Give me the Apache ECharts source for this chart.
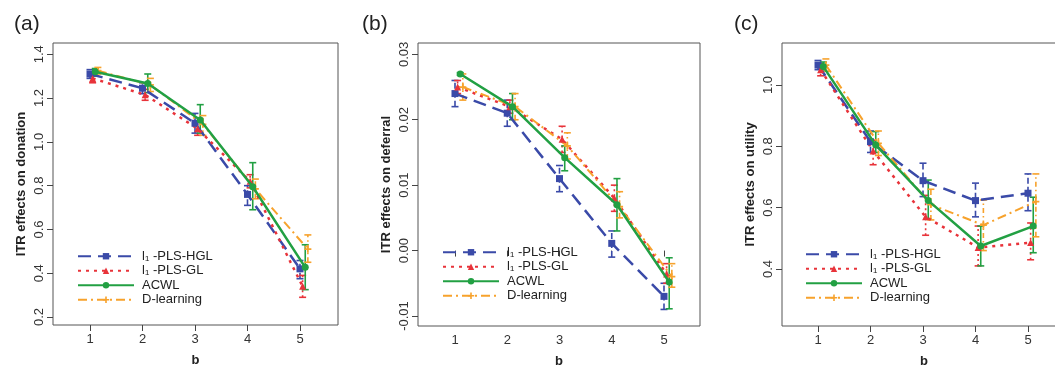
<!DOCTYPE html>
<html><head><meta charset="utf-8">
<script src="https://cdn.jsdelivr.net/npm/echarts@6/dist/echarts.min.js"></script>
<style>html,body{margin:0;padding:0;background:#fff}#c{width:1055px;height:365px}</style>
</head><body><div id="c"></div>
<script>
const bValues = [1, 2, 3, 4, 5];
const methodNames = ['l\u2081 -PLS-HGL', 'l\u2081 -PLS-GL', 'ACWL', 'D-learning'];
const panelLabels = ['(a)', '(b)', '(c)'];
const yTitles = ['ITR effects on donation', 'ITR effects on deferral', 'ITR effects on utility'];
const xTitle = 'b';
const yTicksDonation = [0.2, 0.4, 0.6, 0.8, 1.0, 1.2, 1.4];
const yTicksDeferral = [-0.01, 0.00, 0.01, 0.02, 0.03];
const yTicksUtility = [0.4, 0.6, 0.8, 1.0];

// (a) donation
const donHGL = [1.31, 1.245, 1.085, 0.76, 0.42];
const donHGLLow = [1.29, 1.22, 1.04, 0.71, 0.375];
const donHGLHigh = [1.33, 1.27, 1.13, 0.80, 0.458];
const donGL = [1.29, 1.215, 1.06, 0.82, 0.34];
const donGLLow = [1.27, 1.19, 1.03, 0.79, 0.29];
const donGLHigh = [1.31, 1.24, 1.09, 0.85, 0.39];
const donACWL = [1.32, 1.267, 1.10, 0.795, 0.427];
const donACWLLow = [1.30, 1.225, 1.04, 0.69, 0.325];
const donACWLHigh = [1.335, 1.31, 1.17, 0.905, 0.53];
const donD = [1.325, 1.26, 1.08, 0.785, 0.51];
const donDLow = [1.31, 1.23, 1.03, 0.74, 0.45];
const donDHigh = [1.34, 1.29, 1.12, 0.83, 0.575];

// (b) deferral
const defHGL = [0.024, 0.021, 0.011, 0.0011, -0.007];
const defHGLLow = [0.022, 0.019, 0.009, -0.001, -0.009];
const defHGLHigh = [0.026, 0.023, 0.013, 0.003, -0.005];
const defGL = [0.025, 0.022, 0.017, 0.008, -0.0036];
const defGLLow = [0.024, 0.021, 0.015, 0.006, -0.005];
const defGLHigh = [0.026, 0.023, 0.019, 0.010, -0.002];
const defACWL = [0.027, 0.022, 0.0142, 0.007, -0.0048];
const defACWLLow = [0.0268, 0.020, 0.0122, 0.003, -0.0089];
const defACWLHigh = [0.0272, 0.024, 0.0160, 0.011, -0.0011];
const defD = [0.025, 0.022, 0.016, 0.0067, -0.004];
const defDLow = [0.023, 0.020, 0.014, 0.005, -0.0056];
const defDHigh = [0.027, 0.024, 0.018, 0.009, -0.002];

// (c) utility
const utiHGL = [1.065, 0.815, 0.688, 0.623, 0.647];
const utiHGLLow = [1.05, 0.78, 0.636, 0.57, 0.59];
const utiHGLHigh = [1.08, 0.85, 0.745, 0.68, 0.71];
const utiGL = [1.05, 0.785, 0.57, 0.47, 0.486];
const utiGLLow = [1.03, 0.74, 0.51, 0.41, 0.43];
const utiGLHigh = [1.07, 0.82, 0.64, 0.54, 0.55];
const utiACWL = [1.06, 0.804, 0.623, 0.475, 0.54];
const utiACWLLow = [1.045, 0.78, 0.562, 0.41, 0.453];
const utiACWLHigh = [1.075, 0.848, 0.69, 0.54, 0.634];
const utiD = [1.065, 0.81, 0.61, 0.543, 0.62];
const utiDLow = [1.045, 0.77, 0.56, 0.46, 0.505];
const utiDHigh = [1.085, 0.85, 0.66, 0.625, 0.71];

const panels = [
  {mean:[donHGL,donGL,donACWL,donD], low:[donHGLLow,donGLLow,donACWLLow,donDLow], high:[donHGLHigh,donGLHigh,donACWLHigh,donDHigh]},
  {mean:[defHGL,defGL,defACWL,defD], low:[defHGLLow,defGLLow,defACWLLow,defDLow], high:[defHGLHigh,defGLHigh,defACWLHigh,defDHigh]},
  {mean:[utiHGL,utiGL,utiACWL,utiD], low:[utiHGLLow,utiGLLow,utiACWLLow,utiDLow], high:[utiHGLHigh,utiGLHigh,utiACWLHigh,utiDHigh]}
];
const yTicks = [yTicksDonation, yTicksDeferral, yTicksUtility];

const FONT = '"Liberation Sans", Arial, Helvetica, sans-serif';
const colors = ['#3a4aa8', '#e8333a', '#22a043', '#f7a22c'];
const dashes = [[13, 7], [3, 5], null, [9, 4, 2, 4]];
const errDashes = [[6, 3], [2, 3], null, [5, 3, 1.5, 3]];
const widths = [2.5, 2.5, 2.5, 2];
const symbols = ['rect', 'triangle', 'circle', 'path://M3,0H5V3H8V5H5V8H3V5H0V3H3Z'];
const symSizes = [7, 7, 7, 7];
const offsets = [0, 0.05, 0.1, 0.15];

const grids = [
  {left: 53, top: 43, width: 285, height: 282},
  {left: 418, top: 43, width: 282, height: 283},
  {left: 782, top: 43, width: 284, height: 283}
];
const xRanges = [[0.295, 5.724], [0.292, 5.689], [0.314, 5.724]];
const yRanges = [[0.1635, 1.4516], [-0.01153, 0.03173], [0.214, 1.137]];
const legendPos = [{left: 72, top: 244}, {left: 437, top: 240}, {left: 800, top: 242}];
const titleLeft = [9, 357, 729];

const axisColor = '#444';
const textColor = '#333';

const option = {
  animation: false,
  backgroundColor: '#fff',
  title: panelLabels.map((t, i) => ({text: t, left: titleLeft[i], top: 9, textStyle: {fontFamily: FONT, fontSize: 21, fontWeight: 'normal', color: '#222'}})),
  grid: grids.map(g => Object.assign({show: true, borderColor: '#555', borderWidth: 1, backgroundColor: 'transparent', containLabel: false, outerBoundsMode: 'none'}, g)),
  xAxis: grids.map((g, i) => ({
    type: 'value', gridIndex: i, min: xRanges[i][0], max: xRanges[i][1],
    name: xTitle, nameLocation: 'middle', nameGap: 29,
    nameTextStyle: {fontFamily: FONT, fontSize: 13, fontWeight: 'bold', color: '#222'},
    axisLine: {show: false},
    axisTick: {show: true, length: 6, customValues: bValues, lineStyle: {color: axisColor}},
    axisLabel: {customValues: bValues, margin: 8, fontFamily: FONT, fontSize: 13, color: textColor, formatter: v => String(v)},
    splitLine: {show: false}
  })),
  yAxis: grids.map((g, i) => ({
    type: 'value', gridIndex: i, min: yRanges[i][0], max: yRanges[i][1],
    name: yTitles[i], nameLocation: 'middle', nameGap: 25,
    nameTextStyle: {fontFamily: FONT, fontSize: 13, fontWeight: 'bold', color: '#222'},
    axisLine: {show: false},
    axisTick: {show: true, length: 6, customValues: yTicks[i], lineStyle: {color: axisColor}},
    axisLabel: {customValues: yTicks[i], rotate: 90, margin: 7, fontFamily: FONT, fontSize: 13, color: textColor,
      formatter: v => (i === 1 ? v.toFixed(2) : v.toFixed(1))},
    splitLine: {show: false}
  })),
  legend: legendPos.map(p => ({
    orient: 'vertical', left: p.left, top: p.top, itemWidth: 56, itemHeight: 8, itemGap: 0,
    data: methodNames, selectedMode: false,
    textStyle: {fontFamily: FONT, fontSize: 13, lineHeight: 14.5, color: '#222', padding: [0, 0, 0, 3]}
  })),
  series: []
};

panels.forEach((p, pi) => {
  methodNames.forEach((name, mi) => {
    const errData = bValues.map((b, k) => [b + offsets[mi], p.low[mi][k], p.high[mi][k]]);
    option.series.push({
      type: 'custom', name: 'err-' + pi + '-' + mi, xAxisIndex: pi, yAxisIndex: pi,
      data: errData, z: 2, silent: true,
      renderItem: function (params, api) {
        const x = api.value(0);
        const lo = api.coord([x, api.value(1)]);
        const hi = api.coord([x, api.value(2)]);
        const cw = 3.5;
        return {type: 'group', children: [
          {type: 'line', shape: {x1: lo[0], y1: lo[1], x2: hi[0], y2: hi[1]}, style: {stroke: colors[mi], lineWidth: 1.6, lineDash: errDashes[mi], fill: null}},
          {type: 'line', shape: {x1: lo[0] - cw, y1: lo[1], x2: lo[0] + cw, y2: lo[1]}, style: {stroke: colors[mi], lineWidth: 1.6}},
          {type: 'line', shape: {x1: hi[0] - cw, y1: hi[1], x2: hi[0] + cw, y2: hi[1]}, style: {stroke: colors[mi], lineWidth: 1.6}}
        ]};
      }
    });
  });
  methodNames.forEach((name, mi) => {
    option.series.push({
      type: 'line', name: name, xAxisIndex: pi, yAxisIndex: pi,
      data: bValues.map((b, k) => [b + offsets[mi], p.mean[mi][k]]),
      symbol: symbols[mi], symbolSize: symSizes[mi], showSymbol: true, z: 3 + (mi === 2 ? 2 : 0),
      itemStyle: {color: colors[mi]},
      lineStyle: {color: colors[mi], width: widths[mi], type: dashes[mi] || 'solid'},
      silent: true
    });
  });
});

const chart = echarts.init(document.getElementById('c'), null, {renderer: 'canvas'});
chart.setOption(option);
</script></body></html>
